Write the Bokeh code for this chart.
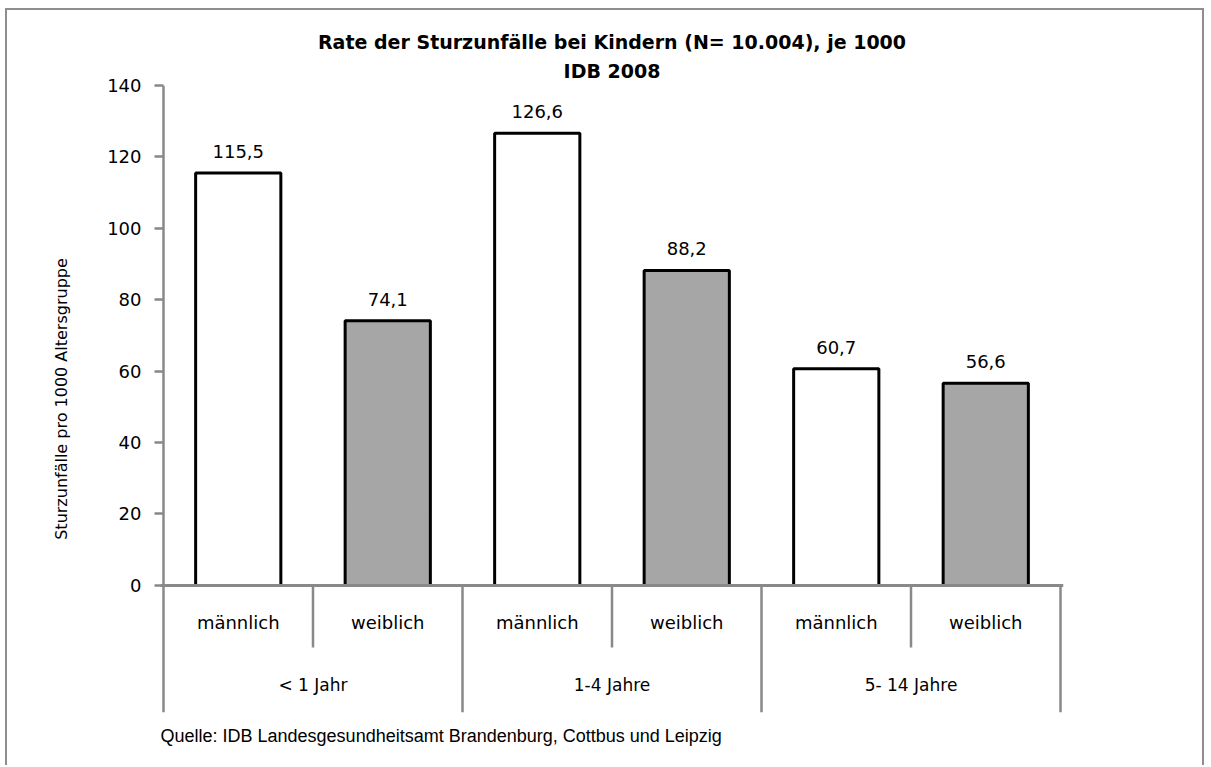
from bokeh.plotting import figure
from bokeh.models import Range1d, FixedTicker, Title, ColumnDataSource
from bokeh.core.properties import value
from bokeh.embed import file_html
from bokeh.resources import INLINE

# ---- data ----
title_lines = ["Rate der Sturzunfälle bei Kindern (N= 10.004), je 1000", "IDB 2008"]
groups = ["< 1 Jahr", "1-4 Jahre", "5- 14 Jahre"]
sexes = ["männlich", "weiblich"]
rates = [115.5, 74.1, 126.6, 88.2, 60.7, 56.6]
y_ticks = [0, 20, 40, 60, 80, 100, 120, 140]
y_label = "Sturzunfälle pro 1000 Altersgruppe"
source_note = "Quelle: IDB  Landesgesundheitsamt  Brandenburg, Cottbus und Leipzig"

# ---- styles ----
FONT = "DejaVu Sans"
GRAY = "#898989"
fills = {"männlich": "#ffffff", "weiblich": "#a6a6a6"}
depth = 35.6
sub_depth = 17.4
pad = 0.02

n_sub = len(sexes)
cats = [(g, s) for g in groups for s in sexes]
xs = [i + 0.5 for i in range(len(cats))]

src = ColumnDataSource(dict(
    x=xs,
    top=rates,
    fill=[fills[s] for _, s in cats],
    lbl=[f"{v:.1f}".replace(".", ",") for v in rates],
    sub=[s for _, s in cats],
))

p = figure(width=1199, height=757,
           x_range=Range1d(-pad, len(cats) + pad),
           y_range=Range1d(-depth, y_ticks[-1]),
           output_backend="svg", toolbar_location=None,
           min_border_left=153, min_border_right=143,
           min_border_top=75, min_border_bottom=55)
p.styles = {"border-left": "2px solid #8e8e8e", "border-top": "2px solid #8e8e8e",
            "border-right": "2px solid #8e8e8e", "margin-left": "5px", "margin-top": "8px"}
p.outline_line_color = None
p.grid.visible = False
p.xaxis.visible = False

# first line (outermost) is the figure title, second line sits closer to the frame
p.title.text = title_lines[0]
p.title.align = "center"
p.title.text_font = FONT
p.title.text_font_size = "19px"
p.title.text_font_style = "bold"
p.title.text_color = "#000000"
p.title.standoff = 2
p.add_layout(Title(text=title_lines[1], align="center", text_font=FONT,
                   text_font_size="19px", text_font_style="bold",
                   text_color="#000000", standoff=8), "above")

p.add_layout(Title(text=source_note, align="left", text_font="Liberation Sans",
                   text_font_size="18px", text_font_style="normal",
                   text_color="#000000", standoff=22), "below")

ax = p.yaxis[0]
ax.ticker = FixedTicker(ticks=y_ticks)
ax.axis_line_color = None
ax.major_tick_line_color = GRAY
ax.major_tick_line_width = 2.5
ax.major_tick_out = 6
ax.major_tick_in = 3
ax.minor_tick_line_color = None
ax.major_label_standoff = 13
ax.major_label_text_font = FONT
ax.major_label_text_font_size = "18px"
ax.major_label_text_color = "#000000"
ax.axis_label = y_label
ax.axis_label_text_font = FONT
ax.axis_label_text_font_size = "16px"
ax.axis_label_text_font_style = "normal"
ax.axis_label_text_color = "#000000"
ax.axis_label_standoff = 33

# bars
p.vbar(x="x", top="top", bottom=0, width=0.57, source=src,
       fill_color="fill", line_color="#000000", line_width=3)

# value labels
p.text(x="x", y="top", text="lbl", source=src, text_align="center",
       text_baseline="bottom", y_offset=-15, text_font=value(FONT),
       text_font_size="18px", text_color="#000000")

# category axis drawn in data space below zero
n_groups = len(groups)
grp_x = [g * n_sub for g in range(n_groups + 1)]
p.segment(x0=grp_x, y0=[-depth] * len(grp_x), x1=grp_x, y1=[0] * len(grp_x),
          line_color=GRAY, line_width=2.5)
p.segment(x0=[0], y0=[0], x1=[0], y1=[y_ticks[-1]], line_color=GRAY, line_width=2.5)
sub_x = [g * n_sub + k for g in range(n_groups) for k in range(1, n_sub)]
p.segment(x0=sub_x, y0=[-sub_depth] * len(sub_x), x1=sub_x, y1=[0] * len(sub_x),
          line_color=GRAY, line_width=2.5)
p.segment(x0=[-pad], y0=[0], x1=[len(cats) + pad], y1=[0], line_color=GRAY, line_width=3)

p.text(x="x", y=-10.3, text="sub", source=src, text_align="center",
       text_baseline="middle", text_font=value(FONT), text_font_size="18px",
       text_color="#000000")
p.text(x=[g * n_sub + n_sub / 2 for g in range(n_groups)], y=[-28.0] * n_groups,
       text=groups, text_align="center", text_baseline="middle",
       text_font=value(FONT), text_font_size="17px", text_color="#000000")

open("out.html", "w").write(file_html(p, INLINE))
